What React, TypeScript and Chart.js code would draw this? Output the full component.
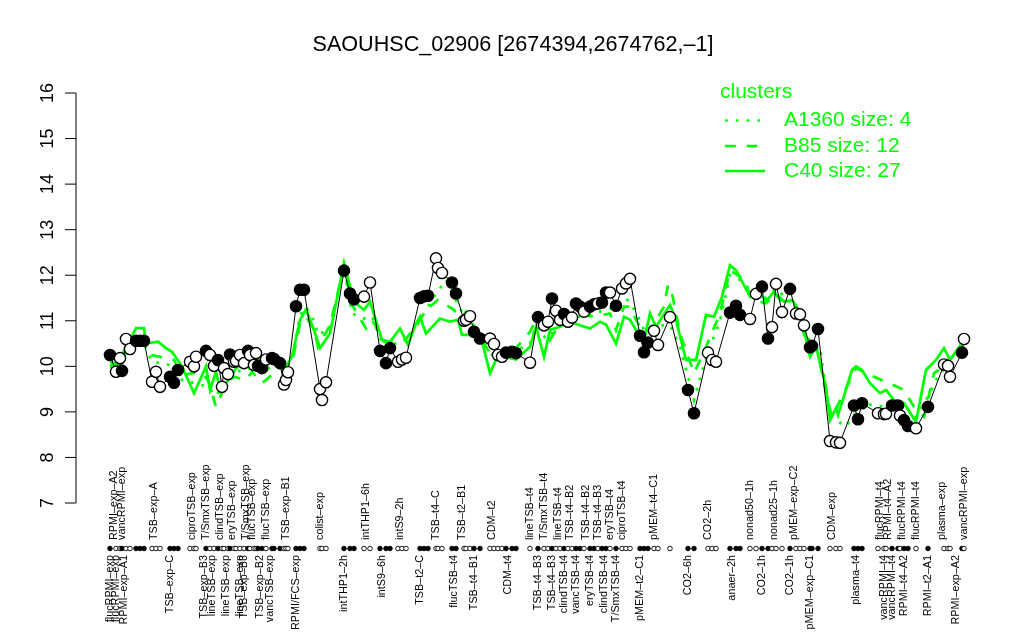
import React, { useEffect, useRef } from "react";
import { Chart, registerables } from "chart.js";

Chart.register(...registerables);

const TITLE = "SAOUHSC_02906 [2674394,2674762,–1]";
const GREEN = "#00ff00";
const FONT = "'Liberation Sans', Arial, Helvetica, sans-serif";

const yTicks = [7, 8, 9, 10, 11, 12, 13, 14, 15, 16];

// condition positions along the x axis, expression values, filled marker flag
const positions = [
  0, 3, 5, 6, 8, 10, 13, 15, 17, 21,
  23, 25, 30, 32, 34, 40, 42, 43, 48, 50,
  52, 54, 56, 57, 59, 60, 62, 63, 65, 67,
  69, 70, 72, 73, 74, 76, 78, 81, 82, 85,
  87, 88, 89, 93, 95, 97, 105, 106, 108, 117,
  120, 122, 127, 130, 135, 138, 140, 144, 146, 148,
  155, 157, 159, 163, 164, 166, 171, 173, 177, 178,
  180, 182, 185, 190, 192, 194, 196, 198, 201, 203,
  210, 214, 217, 219, 221, 223, 225, 227, 229, 231,
  233, 235, 237, 240, 242, 244, 246, 248, 250, 253,
  256, 258, 260, 265, 267, 269, 272, 274, 280, 289,
  292, 299, 301, 303, 310, 313, 315, 320, 323, 326,
  329, 331, 333, 336, 340, 343, 345, 347, 350, 351,
  354, 360, 363, 365, 372, 374, 376, 384, 387, 388,
  391, 394, 395, 397, 399, 403, 409, 417, 419, 420,
  426, 427,
];

const values = [
  10.25, 9.88, 10.18, 9.9, 10.6, 10.38, 10.56, 10.56, 10.56, 9.66,
  9.88, 9.55, 9.77, 9.64, 9.92, 10.1, 10.0, 10.21, 10.34, 10.25,
  10.01, 10.14, 9.55, 9.96, 9.83, 10.26, 10.1, 10.12, 10.25, 10.07,
  10.34, 10.25, 10.03, 10.29, 10.01, 9.96, 10.15, 10.18, 10.16, 10.07,
  9.6, 9.7, 9.87, 11.32, 11.68, 11.68, 9.5, 9.26, 9.65, 12.1,
  11.6, 11.47, 11.53, 11.84, 10.34, 10.07, 10.4, 10.1, 10.15, 10.19,
  11.5, 11.54, 11.55, 12.37, 12.16, 12.05, 11.84, 11.6, 11.0, 11.02,
  11.1, 10.76, 10.61, 10.61, 10.49, 10.25, 10.21, 10.3, 10.32, 10.29,
  10.08, 11.08, 10.9, 10.98, 11.49, 11.22, 11.02, 11.15, 10.98, 11.07,
  11.38, 11.31, 11.2, 11.31, 11.36, 11.38, 11.4, 11.62, 11.62, 11.33,
  11.71, 11.82, 11.92, 10.67, 10.31, 10.52, 10.78, 10.47, 11.08, 9.48,
  8.97, 10.3, 10.14, 10.1, 11.18, 11.33, 11.13, 11.04, 11.59, 11.75,
  10.61, 10.86, 11.81, 11.19, 11.7, 11.16, 11.14, 10.9, 10.42, 10.45,
  10.82, 8.36, 8.33, 8.32, 9.14, 8.84, 9.19, 8.97, 8.95, 8.96,
  9.14, 9.14, 8.92, 8.82, 8.69, 8.64, 9.11, 10.04, 10.01, 9.77,
  10.3, 10.6,
];

const filled = [
  1, 0, 0, 1, 0, 0, 1, 1, 1, 0,
  0, 0, 1, 1, 1, 0, 0, 0, 1, 0,
  0, 1, 0, 0, 0, 1, 0, 0, 0, 0,
  1, 0, 0, 0, 1, 1, 0, 1, 1, 1,
  0, 0, 0, 1, 1, 1, 0, 0, 0, 1,
  1, 1, 0, 0, 1, 1, 1, 0, 0, 0,
  1, 1, 1, 0, 0, 0, 1, 1, 0, 0,
  0, 1, 1, 0, 0, 0, 0, 1, 1, 1,
  0, 1, 0, 0, 1, 0, 0, 1, 0, 0,
  1, 1, 0, 1, 1, 0, 1, 1, 0, 1,
  0, 0, 0, 1, 1, 1, 0, 0, 0, 1,
  1, 0, 0, 0, 1, 1, 1, 0, 0, 1,
  1, 0, 0, 0, 1, 0, 0, 0, 1, 1,
  1, 0, 0, 0, 1, 1, 1, 0, 0, 0,
  1, 1, 0, 1, 1, 0, 1, 0, 0, 0,
  1, 0,
];

// cluster profiles
const c40Pos = [
  0, 3, 13, 17, 18, 24, 28, 31, 36, 42, 48, 50, 53, 55, 58, 61, 63, 71, 78, 84,
  88, 91, 95, 98, 102, 105, 110, 117, 120, 123, 127, 130, 136, 140, 145, 149, 153, 155, 158, 165,
  170, 174, 176, 180, 185, 190, 193, 198, 203, 210, 213, 217, 220, 225, 230, 235, 240, 245, 248, 253,
  257, 260, 263, 267, 270, 273, 280, 283, 288, 293, 298, 302, 306, 310, 313, 320, 325, 328, 332, 335,
  338, 341, 345, 350, 353, 358, 360, 363, 364, 371, 373, 376, 380, 385, 388, 392, 397, 403, 408, 413,
  417, 420, 425, 427,
];
const c40Vals = [
  10.03, 10.0, 10.84, 10.84, 10.5, 10.54, 10.4, 10.32, 10.0, 9.41, 10.0, 9.48, 9.88, 9.5, 9.63, 9.81, 9.96, 10.14, 10.15, 10.0,
  10.0, 10.21, 11.02, 11.25, 10.8, 10.4, 10.72, 12.27, 11.75, 11.38, 11.24, 11.42, 10.58, 10.54, 10.83, 10.47, 10.94, 11.09, 10.72, 11.05,
  10.98, 11.02, 10.69, 10.69, 10.72, 9.85, 10.14, 10.2, 10.15, 10.43, 10.87, 10.21, 10.8, 10.87, 10.98, 10.9, 10.83, 10.98, 10.92, 10.5,
  11.09, 11.02, 10.8, 10.58, 11.16, 10.87, 11.35, 11.02, 10.14, 10.14, 11.13, 11.09, 11.53, 12.22, 12.11, 11.53, 11.6, 11.42, 11.64, 11.46,
  11.42, 11.46, 11.2, 10.21, 10.43, 9.55, 8.82, 9.08, 8.93, 9.92, 10.0, 9.92, 9.63, 9.41, 9.48, 9.26, 9.19, 8.78, 9.92, 10.14,
  10.4, 10.14, 10.45, 10.4,
];

const b85Pos = [
  0, 3, 8, 13, 17, 21, 28, 32, 36, 45, 49, 53, 58, 62, 68, 71, 76, 82, 86, 91,
  95, 98, 102, 104, 110, 117, 121, 128, 131, 137, 143, 148, 155, 158, 164, 172, 175, 178, 185, 192,
  200, 210, 213, 218, 220, 225, 235, 242, 250, 253, 257, 260, 263, 267, 272, 277, 279, 281, 285, 292,
  298, 305, 310, 315, 322, 328, 333, 337, 342, 348, 353, 358, 361, 373, 382, 388, 397, 402, 407, 412,
  417, 425,
];
const b85Vals = [
  10.1, 10.05, 10.4, 10.65, 10.55, 10.25, 10.18, 10.14, 9.81, 9.88, 9.7, 9.11, 9.63, 9.77, 9.7, 9.88, 9.63, 9.85, 9.96, 10.07,
  10.94, 11.09, 10.8, 10.43, 10.9, 12.19, 11.35, 10.83, 11.02, 10.54, 10.54, 10.6, 11.02, 11.24, 11.46, 11.24, 11.02, 11.2, 10.65, 10.14,
  10.25, 10.76, 11.02, 10.9, 10.58, 10.94, 11.13, 11.09, 11.16, 10.8, 11.31, 11.31, 11.02, 10.72, 10.94, 11.31, 11.79, 11.6, 10.72, 9.85,
  10.43, 11.16, 12.11, 11.97, 11.46, 11.38, 11.6, 11.42, 11.35, 10.58, 10.5, 9.41, 8.89, 9.96, 9.77, 9.66, 9.48, 9.11, 8.89, 9.85,
  10.0, 10.4,
];

const a1360Pos = [
  0, 3, 8, 13, 17, 21, 28, 32, 36, 45, 49, 53, 58, 62, 68, 71, 76, 82, 86, 91,
  95, 98, 102, 104, 110, 117, 121, 127, 131, 137, 143, 148, 155, 158, 162, 168, 175, 180, 185, 192,
  200, 210, 213, 218, 225, 235, 245, 253, 258, 263, 267, 272, 280, 285, 289, 292, 298, 305, 310, 315,
  322, 328, 333, 338, 345, 350, 355, 360, 368, 376, 387, 394, 403, 410, 413, 418, 425,
];
const a1360Vals = [
  10.0, 9.95, 10.3, 10.6, 10.5, 10.1, 10.05, 10.0, 9.7, 9.6, 9.55, 9.35, 9.7, 9.9, 9.9, 10.0, 9.9, 10.0, 9.95, 10.1,
  11.13, 11.3, 11.0, 10.69, 10.83, 12.15, 11.16, 11.05, 11.1, 10.4, 10.5, 10.55, 11.0, 11.24, 11.53, 11.9, 11.27, 10.9, 10.6, 10.2,
  10.28, 10.5, 10.9, 10.6, 10.9, 11.1, 11.2, 11.3, 11.5, 11.2, 10.8, 10.9, 10.9, 10.43, 9.77, 9.26, 10.2, 11.0, 12.0, 11.9,
  11.6, 11.5, 11.7, 11.5, 11.2, 10.5, 10.4, 8.9, 8.68, 9.19, 9.11, 9.26, 8.89, 9.41, 9.7, 10.0, 10.35,
];

// axis labels (two staggered rows)
const topLabels = [
  "RPMI–exp–A2", "vancRPMI–exp", "TSB–exp–A", "ciproTSB–exp", "T/SmxTSB–exp", "clindTSB–exp", "eryTSB–exp",
  "T/SmxTSB–exp", "flucTSB–exp", "flucTSB–exp", "TSB–exp–B1", "colist–exp", "intTHP1–6h", "intS9–2h",
  "TSB–t4–C", "TSB–t2–B1", "CDM–t2", "lineTSB–t4", "T/SmxTSB–t4", "lineTSB–t4", "TSB–t4–B2", "TSB–t4–B2",
  "TSB–t4–B3", "eryTSB–t4", "ciproTSB–t4", "pMEM–t4–C1", "CO2–2h", "nonad50–1h", "nonad25–1h",
  "pMEM–exp–C2", "CDM–exp", "flucRPMI–t4", "RPMI–t4–A2", "flucRPMI–t4", "flucRPMI–t4", "plasma–exp", "vancRPMI–exp",
];
const topLabelPos = [
  2, 6, 22, 41, 48, 55, 61,
  68, 71, 78, 88, 105, 128, 145,
  163, 176, 191, 210, 217, 224, 230, 238,
  244, 250, 256, 272, 299, 320, 332,
  342, 361, 385, 389, 396, 403, 416, 427,
];
const bottomLabels = [
  "flucRPMI–exp", "flucRPMI–exp", "RPMI–exp–A1", "TSB–exp–C", "TSB–exp–B3", "lineTSB–exp", "lineTSB–exp",
  "lineTSB–exp", "TSB–exp–B3", "TSB–exp–B2", "vancTSB–exp", "RPMI/FCS–exp", "intTHP1–2h", "intS9–6h",
  "TSB–t2–C", "flucTSB–t4", "TSB–t4–B1", "CDM–t4", "TSB–t4–B3", "TSB–t4–B3", "clindTSB–t4", "vancTSB–t4",
  "eryTSB–t4", "clindTSB–t4", "T/SmxTSB–t4", "pMEM–t2–C1", "CO2–6h", "anaer–2h", "CO2–1h", "CO2–1h",
  "pMEM–exp–C1", "plasma–t4", "vancRPMI–t4", "vancRPMI–t4", "RPMI–t4–A2", "RPMI–t2–A1", "RPMI–exp–A2",
];
const bottomLabelPos = [
  0, 3, 7, 30, 47, 51, 58,
  65, 67, 75, 80, 93, 117, 136,
  155, 172, 182, 199, 214, 221, 227, 233,
  240, 247, 253, 265, 289, 311, 326, 340,
  350, 373, 387, 391, 397, 409, 423,
];

const legendTitle = "clusters";
const legendLabels = ["A1360 size: 4", "B85 size: 12", "C40 size: 27"];

const overlay = {
  id: "overlay",
  afterDraw(chart: any) {
    const ctx = chart.ctx as CanvasRenderingContext2D;
    const xs = chart.scales.x;
    const ys = chart.scales.y;
    const left = chart.chartArea.left;
    ctx.save();

    // title
    ctx.fillStyle = "#000";
    ctx.font = `21.6px ${FONT}`;
    ctx.textAlign = "center";
    ctx.textBaseline = "middle";
    ctx.fillText(TITLE, 513, 45);

    // y axis
    ctx.strokeStyle = "#000";
    ctx.lineWidth = 1;
    ctx.beginPath();
    ctx.moveTo(left, ys.getPixelForValue(yTicks[0]));
    ctx.lineTo(left, ys.getPixelForValue(yTicks[yTicks.length - 1]));
    yTicks.forEach((t) => {
      const py = ys.getPixelForValue(t);
      ctx.moveTo(left, py);
      ctx.lineTo(left - 11, py);
    });
    ctx.stroke();
    ctx.font = `18px ${FONT}`;
    yTicks.forEach((t) => {
      const py = ys.getPixelForValue(t);
      ctx.save();
      ctx.translate(left - 23, py);
      ctx.rotate(-Math.PI / 2);
      ctx.textAlign = "center";
      ctx.textBaseline = "alphabetic";
      ctx.fillText(String(t), 0, 0);
      ctx.restore();
    });

    // x labels
    ctx.font = `10.8px ${FONT}`;
    ctx.fillStyle = "#000";
    topLabels.forEach((lab, i) => {
      const px = xs.getPixelForValue(topLabelPos[i]);
      ctx.save();
      ctx.translate(px, 540);
      ctx.rotate(-Math.PI / 2);
      ctx.textAlign = "left";
      ctx.textBaseline = "middle";
      ctx.fillText(lab, 0, 0);
      ctx.restore();
    });
    bottomLabels.forEach((lab, i) => {
      const px = xs.getPixelForValue(bottomLabelPos[i]);
      ctx.save();
      ctx.translate(px, 555);
      ctx.rotate(-Math.PI / 2);
      ctx.textAlign = "right";
      ctx.textBaseline = "middle";
      ctx.fillText(lab, 0, 0);
      ctx.restore();
    });

    // rug of markers
    ctx.lineWidth = 0.9;
    positions.forEach((p, i) => {
      const px = xs.getPixelForValue(p);
      ctx.beginPath();
      ctx.arc(px, 548.5, 2.3, 0, Math.PI * 2);
      ctx.fillStyle = filled[i] ? "#000" : "#fff";
      ctx.fill();
      ctx.strokeStyle = "#000";
      ctx.stroke();
    });

    // legend
    ctx.fillStyle = GREEN;
    ctx.strokeStyle = GREEN;
    ctx.font = `21px ${FONT}`;
    ctx.textAlign = "left";
    ctx.textBaseline = "middle";
    ctx.fillText(legendTitle, 720, 92);
    const dashes = [[2.7, 8.1], [10.8, 10.8], []];
    const rows = [120.5, 146, 171];
    legendLabels.forEach((lab, i) => {
      ctx.save();
      ctx.lineWidth = 2.7;
      ctx.lineCap = "butt";
      ctx.setLineDash(dashes[i]);
      ctx.beginPath();
      ctx.moveTo(725, rows[i]);
      ctx.lineTo(765, rows[i]);
      ctx.stroke();
      ctx.restore();
      ctx.fillText(lab, 784, rows[i]);
    });

    ctx.restore();
  },
};

function toXY(xs: number[], ys: number[]) {
  return xs.map((x, i) => ({ x, y: ys[i] }));
}

export default function App() {
  const ref = useRef<HTMLCanvasElement | null>(null);

  useEffect(() => {
    if (!ref.current) return;
    const chart = new Chart(ref.current, {
      type: "line",
      data: {
        datasets: [
          {
            label: "points",
            data: toXY(positions, values),
            borderColor: "#000",
            borderWidth: 1,
            pointRadius: 5.6,
            pointBorderWidth: 1.4,
            pointBorderColor: "#000",
            pointBackgroundColor: filled.map((f) => (f ? "#000" : "#fff")),
            tension: 0,
            order: 0,
          },
          {
            label: "C40",
            data: toXY(c40Pos, c40Vals),
            borderColor: GREEN,
            borderWidth: 2.7,
            pointRadius: 0,
            tension: 0,
            order: 1,
          },
          {
            label: "B85",
            data: toXY(b85Pos, b85Vals),
            borderColor: GREEN,
            borderWidth: 2.7,
            borderDash: [10.8, 10.8],
            pointRadius: 0,
            tension: 0,
            order: 2,
          },
          {
            label: "A1360",
            data: toXY(a1360Pos, a1360Vals),
            borderColor: GREEN,
            borderWidth: 2.7,
            borderDash: [2.7, 8.1],
            pointRadius: 0,
            tension: 0,
            order: 3,
          },
        ],
      },
      options: {
        responsive: false,
        animation: false,
        devicePixelRatio: 1,
        layout: { padding: { left: 76, right: 25, top: 76.6, bottom: 120.6 } },
        scales: {
          x: { type: "linear", min: -17, max: 444.5, display: false },
          y: { type: "linear", min: 6.64, max: 16.36, display: false },
        },
        plugins: {
          legend: { display: false },
          tooltip: { enabled: false },
          title: { display: false },
        },
        events: [],
      },
      plugins: [overlay],
    });
    return () => chart.destroy();
  }, []);

  return (
    <canvas
      ref={ref}
      width={1024}
      height={640}
      style={{ position: "absolute", left: 0, top: 0, width: 1024, height: 640, background: "#fff" }}
    />
  );
}
